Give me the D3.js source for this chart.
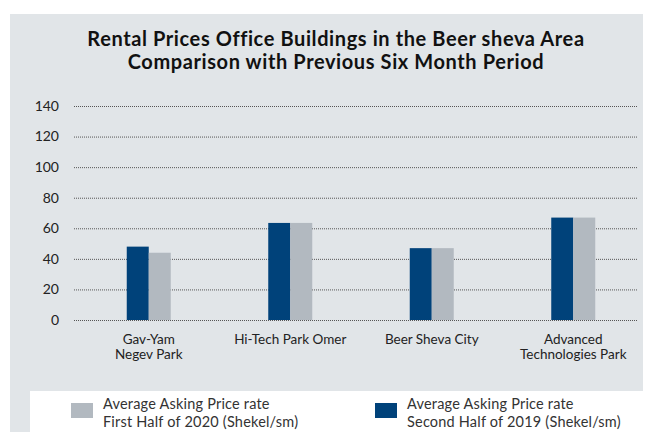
<!DOCTYPE html>
<meta charset="utf-8">
<script src="https://d3js.org/d3.v7.min.js"></script>
<style>
  body { margin: 0; background: #fff; }
  text { font-family: Lato, "Open Sans", sans-serif; }
</style>
<div id="chart"></div>
<script>
  // data
  var categories = [["Gav-Yam", "Negev Park"], ["Hi-Tech Park Omer"], ["Beer Sheva City"], ["Advanced", "Technologies Park"]];
  var secondHalf2019 = [48, 63.5, 47, 67];
  var firstHalf2020 = [44, 63.5, 47, 67];
  var yTicks = [0, 20, 40, 60, 80, 100, 120, 140];
  var seriesNames = [["Average Asking Price rate", "First Half of 2020 (Shekel/sm)"],
                     ["Average Asking Price rate", "Second Half of 2019 (Shekel/sm)"]];

  var width = 649, height = 432;
  var colDark = "#00427a", colLight = "#b2b9c0";

  var svg = d3.select("#chart").append("svg")
    .attr("width", width)
    .attr("height", height);

  // grey panel
  svg.append("rect")
    .attr("x", 10).attr("y", 14)
    .attr("width", 633).attr("height", height - 14)
    .attr("fill", "#e1e5e8");

  // title
  var title = svg.append("text")
    .attr("text-anchor", "middle")
    .attr("font-weight", "bold")
    .attr("font-size", 20)
    .attr("letter-spacing", 0.6)
    .attr("fill", "#111");
  title.append("tspan").attr("x", 336).attr("y", 46).text("Rental Prices Office Buildings in the Beer sheva Area");
  title.append("tspan").attr("x", 336).attr("y", 69).text("Comparison with Previous Six Month Period");

  var plotLeft = 74, plotRight = 638, plotTop = 106, plotBottom = 320;

  var y = d3.scaleLinear().domain([0, 140]).range([plotBottom, plotTop]);
  // groups sit slightly right of the grid in the original
  var x0 = d3.scaleBand().domain(d3.range(categories.length)).range([78, 644]);
  var x1 = d3.scaleBand().domain([0, 1]).range([0, 44]);

  // gridlines
  svg.append("g").selectAll("line")
    .data(yTicks).enter().append("line")
    .attr("x1", plotLeft).attr("x2", plotRight)
    .attr("y1", function (d) { return y(d) + 0.5; })
    .attr("y2", function (d) { return y(d) + 0.5; })
    .attr("stroke", "#555")
    .attr("stroke-width", 1)
    .attr("stroke-dasharray", "1,1");

  // y axis labels
  svg.append("g").selectAll("text")
    .data(yTicks).enter().append("text")
    .attr("x", 59)
    .attr("y", function (d) { return y(d); })
    .attr("dy", "0.35em")
    .attr("text-anchor", "end")
    .attr("font-size", 14)
    .attr("fill", "#222")
    .text(function (d) { return d; });

  // bars
  var groups = svg.append("g").selectAll("g")
    .data(categories.map(function (c, i) { return i; }))
    .enter().append("g")
    .attr("transform", function (i) { return "translate(" + (x0(i) + x0.bandwidth() / 2 - 22) + ",0)"; });

  groups.selectAll("rect")
    .data(function (i) { return [secondHalf2019[i], firstHalf2020[i]]; })
    .enter().append("rect")
    .attr("x", function (d, j) { return x1(j); })
    .attr("width", x1.bandwidth())
    .attr("y", function (d) { return y(d); })
    .attr("height", function (d) { return plotBottom - y(d); })
    .attr("fill", function (d, j) { return j === 0 ? colDark : colLight; });

  // category labels
  svg.append("g").selectAll("text")
    .data(categories).enter().append("text")
    .attr("text-anchor", "middle")
    .attr("font-size", 13.5)
    .attr("fill", "#222")
    .each(function (lines, i) {
      var t = d3.select(this);
      lines.forEach(function (l, k) {
        t.append("tspan")
          .attr("x", x0(i) + x0.bandwidth() / 2)
          .attr("y", 344 + k * 15)
          .text(l);
      });
    });

  // legend box
  svg.append("rect")
    .attr("x", 30).attr("y", 391)
    .attr("width", 613).attr("height", height - 391)
    .attr("fill", "#fff");

  var legendX = [71, 375];
  var legendCol = [colLight, colDark];
  seriesNames.forEach(function (lines, i) {
    svg.append("rect")
      .attr("x", legendX[i]).attr("y", 403)
      .attr("width", 22).attr("height", 15)
      .attr("fill", legendCol[i]);
    var t = svg.append("text")
      .attr("font-size", 14.5)
      .attr("letter-spacing", 0.2)
      .attr("fill", "#333");
    lines.forEach(function (l, k) {
      t.append("tspan")
        .attr("x", legendX[i] + 32)
        .attr("y", 409 + k * 18)
        .text(l);
    });
  });
</script>
